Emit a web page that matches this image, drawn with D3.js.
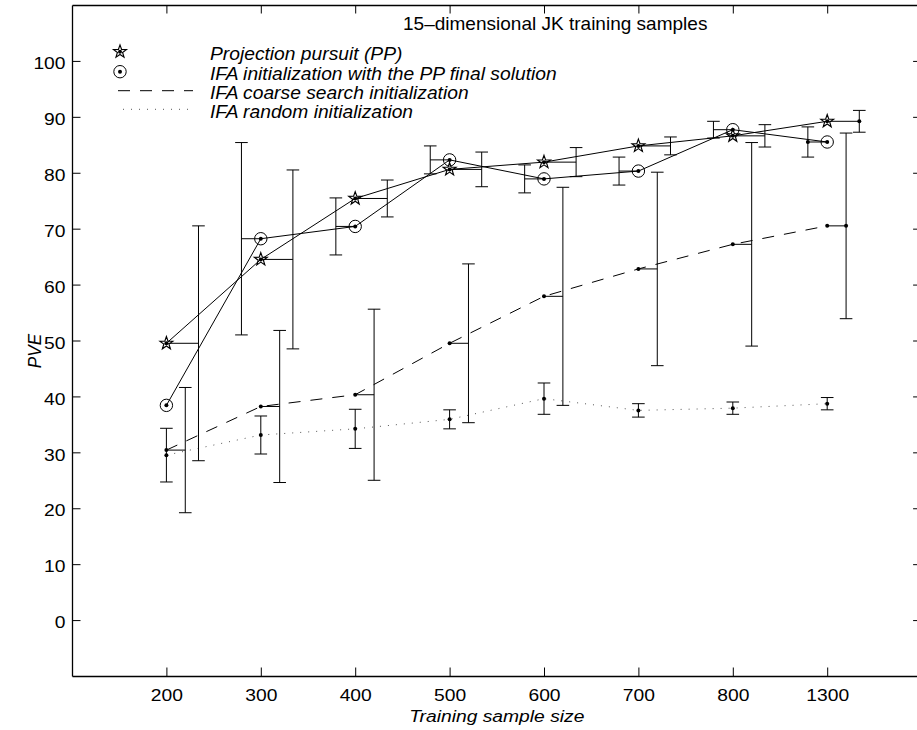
<!DOCTYPE html>
<html>
<head>
<meta charset="utf-8">
<script src="https://cdnjs.cloudflare.com/ajax/libs/d3/7.8.5/d3.min.js"></script>
<style>
  body { margin: 0; background: #fff; }
  svg { display: block; }
  text { font-family: "Liberation Sans", Arial, Helvetica, sans-serif; fill: #000; }
</style>
</head>
<body>
<div id="chart"></div>
<script>
// training sample sizes, plotted at positions 1..8
var sizeLabels = ["200", "300", "400", "500", "600", "700", "800", "1300"];
var yTicks = [0, 10, 20, 30, 40, 50, 60, 70, 80, 90, 100];

// Projection pursuit (PP): mean PVE and half error bar
var ppMean = [49.5, 64.5, 75.4, 80.6, 81.9, 84.8, 86.6, 89.2];
var ppErr  = [21.0, 16.0, 3.3, 3.1, 2.6, 1.6, 2.0, 1.95];

// IFA initialization with the PP final solution (no bar at 200)
var pfMean = [38.4, 68.2, 70.4, 82.3, 78.9, 80.3, 87.7, 85.5];
var pfErr  = [null, 17.2, 5.1, 2.5, 2.5, 2.5, 1.5, 2.7];

// IFA coarse search initialization
var csMean = [30.4, 38.2, 40.3, 49.5, 57.9, 62.8, 67.2, 70.5];
var csErr  = [11.2, 13.6, 15.3, 14.2, 19.5, 17.3, 18.2, 16.6];

// IFA random initialization
var rdMean = [29.5, 33.1, 34.2, 35.9, 39.6, 37.5, 37.9, 38.7];
var rdErr  = [4.8, 3.4, 3.5, 1.7, 2.8, 1.2, 1.1, 1.1];

var legendText = [
  "Projection pursuit (PP)",
  "IFA initialization with the PP final solution",
  "IFA coarse search initialization",
  "IFA random initialization"
];

var W = 917, H = 730;
var svg = d3.select("#chart").append("svg").attr("width", W).attr("height", H);

// the axes box runs a little past the right edge of the picture
var x = d3.scaleLinear().domain([0, 9]).range([72, 921.6]);
var y = d3.scaleLinear().domain([-10, 110]).range([676, 5]);
var idx = d3.range(1, sizeLabels.length + 1);
var TICK = 8.5, SX = 1.12, FS = 17.2;

// axes, ticks pointing inwards on all four sides
var gB = svg.append("g").attr("transform", "translate(0,676)")
  .call(d3.axisBottom(x).tickValues(idx).tickFormat(function (d, i) { return sizeLabels[i]; })
    .tickSizeInner(-TICK).tickSizeOuter(0).tickPadding(12.3));
var gL = svg.append("g").attr("transform", "translate(72,0)")
  .call(d3.axisLeft(y).tickValues(yTicks).tickSizeInner(-TICK).tickSizeOuter(0).tickPadding(6.5));
var gT = svg.append("g").attr("transform", "translate(0,5)")
  .call(d3.axisTop(x).tickValues(idx).tickFormat("").tickSizeInner(-TICK).tickSizeOuter(0));
var gR = svg.append("g").attr("transform", "translate(921.6,0)")
  .call(d3.axisRight(y).tickValues(yTicks).tickFormat("").tickSizeInner(-TICK).tickSizeOuter(0));

[gB, gL, gT, gR].forEach(function (g) {
  g.select(".domain").attr("stroke", "#000").attr("stroke-width", 1.3);
  g.selectAll(".tick line").attr("stroke", "#000").attr("stroke-width", 1);
});
gB.selectAll("text").style("font-size", FS + "px").attr("fill", "#000")
  .attr("transform", "scale(" + SX + ",1)");
gL.selectAll("text").style("font-size", FS + "px").attr("fill", "#000")
  .attr("x", -6.5 / SX).attr("dy", "0.45em")
  .attr("transform", "scale(" + SX + ",1)");

function starPath(R) {
  var r = R * 0.4, pts = [];
  for (var k = 0; k < 10; k++) {
    var a = -Math.PI / 2 + k * Math.PI / 5, rr = k % 2 ? r : R;
    pts.push([rr * Math.cos(a), rr * Math.sin(a)]);
  }
  return "M" + pts.join("L") + "Z";
}

function dot(g, cx, cy) {
  g.append("circle").attr("cx", cx).attr("cy", cy).attr("r", 2).attr("fill", "#000");
}

function marker(g, kind, cx, cy) {
  if (kind === "star") {
    g.append("path").attr("d", starPath(6.8)).attr("transform", "translate(" + cx + "," + cy + ")")
      .attr("fill", "none").attr("stroke", "#000").attr("stroke-width", 1.15);
  } else if (kind === "circle") {
    g.append("circle").attr("cx", cx).attr("cy", cy).attr("r", 6.2)
      .attr("fill", "none").attr("stroke", "#000").attr("stroke-width", 1);
  }
  dot(g, cx, cy);
}

function series(mean, err, off, kind, dash, color) {
  var g = svg.append("g");
  var line = d3.line().x(function (d, i) { return x(i + 1); }).y(function (d) { return y(d); });
  g.append("path").attr("d", line(mean)).attr("fill", "none")
    .attr("stroke", color).attr("stroke-width", 1).attr("stroke-dasharray", dash);
  var last = mean.length - 1;
  mean.forEach(function (m, i) {
    if (err[i] == null) return;
    var cx = x(i + 1 + off), cy = y(m), lo = y(m - err[i]), hi = y(m + err[i]);
    var bar = g.append("g").attr("stroke", "#000").attr("stroke-width", 1);
    if (off) bar.append("line").attr("x1", x(i + 1)).attr("x2", cx).attr("y1", cy).attr("y2", cy);
    bar.append("line").attr("x1", cx).attr("x2", cx).attr("y1", lo).attr("y2", hi);
    bar.append("line").attr("x1", cx - 6.3).attr("x2", cx + 6.3).attr("y1", lo).attr("y2", lo);
    bar.append("line").attr("x1", cx - 6.3).attr("x2", cx + 6.3).attr("y1", hi).attr("y2", hi);
    if (off && i === last) dot(g, cx, cy);
  });
  mean.forEach(function (m, i) { marker(g, kind, x(i + 1), y(m)); });
}

series(rdMean, rdErr, 0, "dot", "1,7", "#555");
series(csMean, csErr, 0.2, "dot", "12,10", "#000");
series(pfMean, pfErr, -0.205, "circle", null, "#000");
series(ppMean, ppErr, 0.34, "star", null, "#000");

function label(txt, px, py, size, sx, opt) {
  opt = opt || {};
  var t = svg.append("text")
    .attr("transform", "translate(" + px + "," + py + ")" + (opt.rot ? " scale(" + sx + ",1) rotate(" + opt.rot + ")" : " scale(" + sx + ",1)"))
    .style("font-size", size + "px")
    .attr("text-anchor", opt.anchor || "start")
    .text(txt);
  if (opt.italic) t.style("font-style", "italic");
  return t;
}

// title inside the box
label("15\u2013dimensional JK training samples", 403, 29.5, 18.2, 1.045);

// legend
var lg = svg.append("g");
marker(lg, "star", 120, 51.7);
marker(lg, "circle", 120, 71.7);
lg.append("line").attr("x1", 118).attr("x2", 193).attr("y1", 90.7).attr("y2", 90.7)
  .attr("stroke", "#000").attr("stroke-dasharray", "12,10");
lg.append("line").attr("x1", 123).attr("x2", 188).attr("y1", 109.3).attr("y2", 109.3)
  .attr("stroke", "#555").attr("stroke-dasharray", "1,7");
var legendY = [60, 80, 99.3, 118.3];
legendText.forEach(function (t, i) {
  label(t, 210, legendY[i], 18.6, 1.035, { italic: true });
});

// axis labels
label("Training sample size", 496.8, 722, FS, SX, { italic: true, anchor: "middle" });
label("PVE", 41, 351, FS, SX, { italic: true, anchor: "middle", rot: -90 });
</script>
</body>
</html>
